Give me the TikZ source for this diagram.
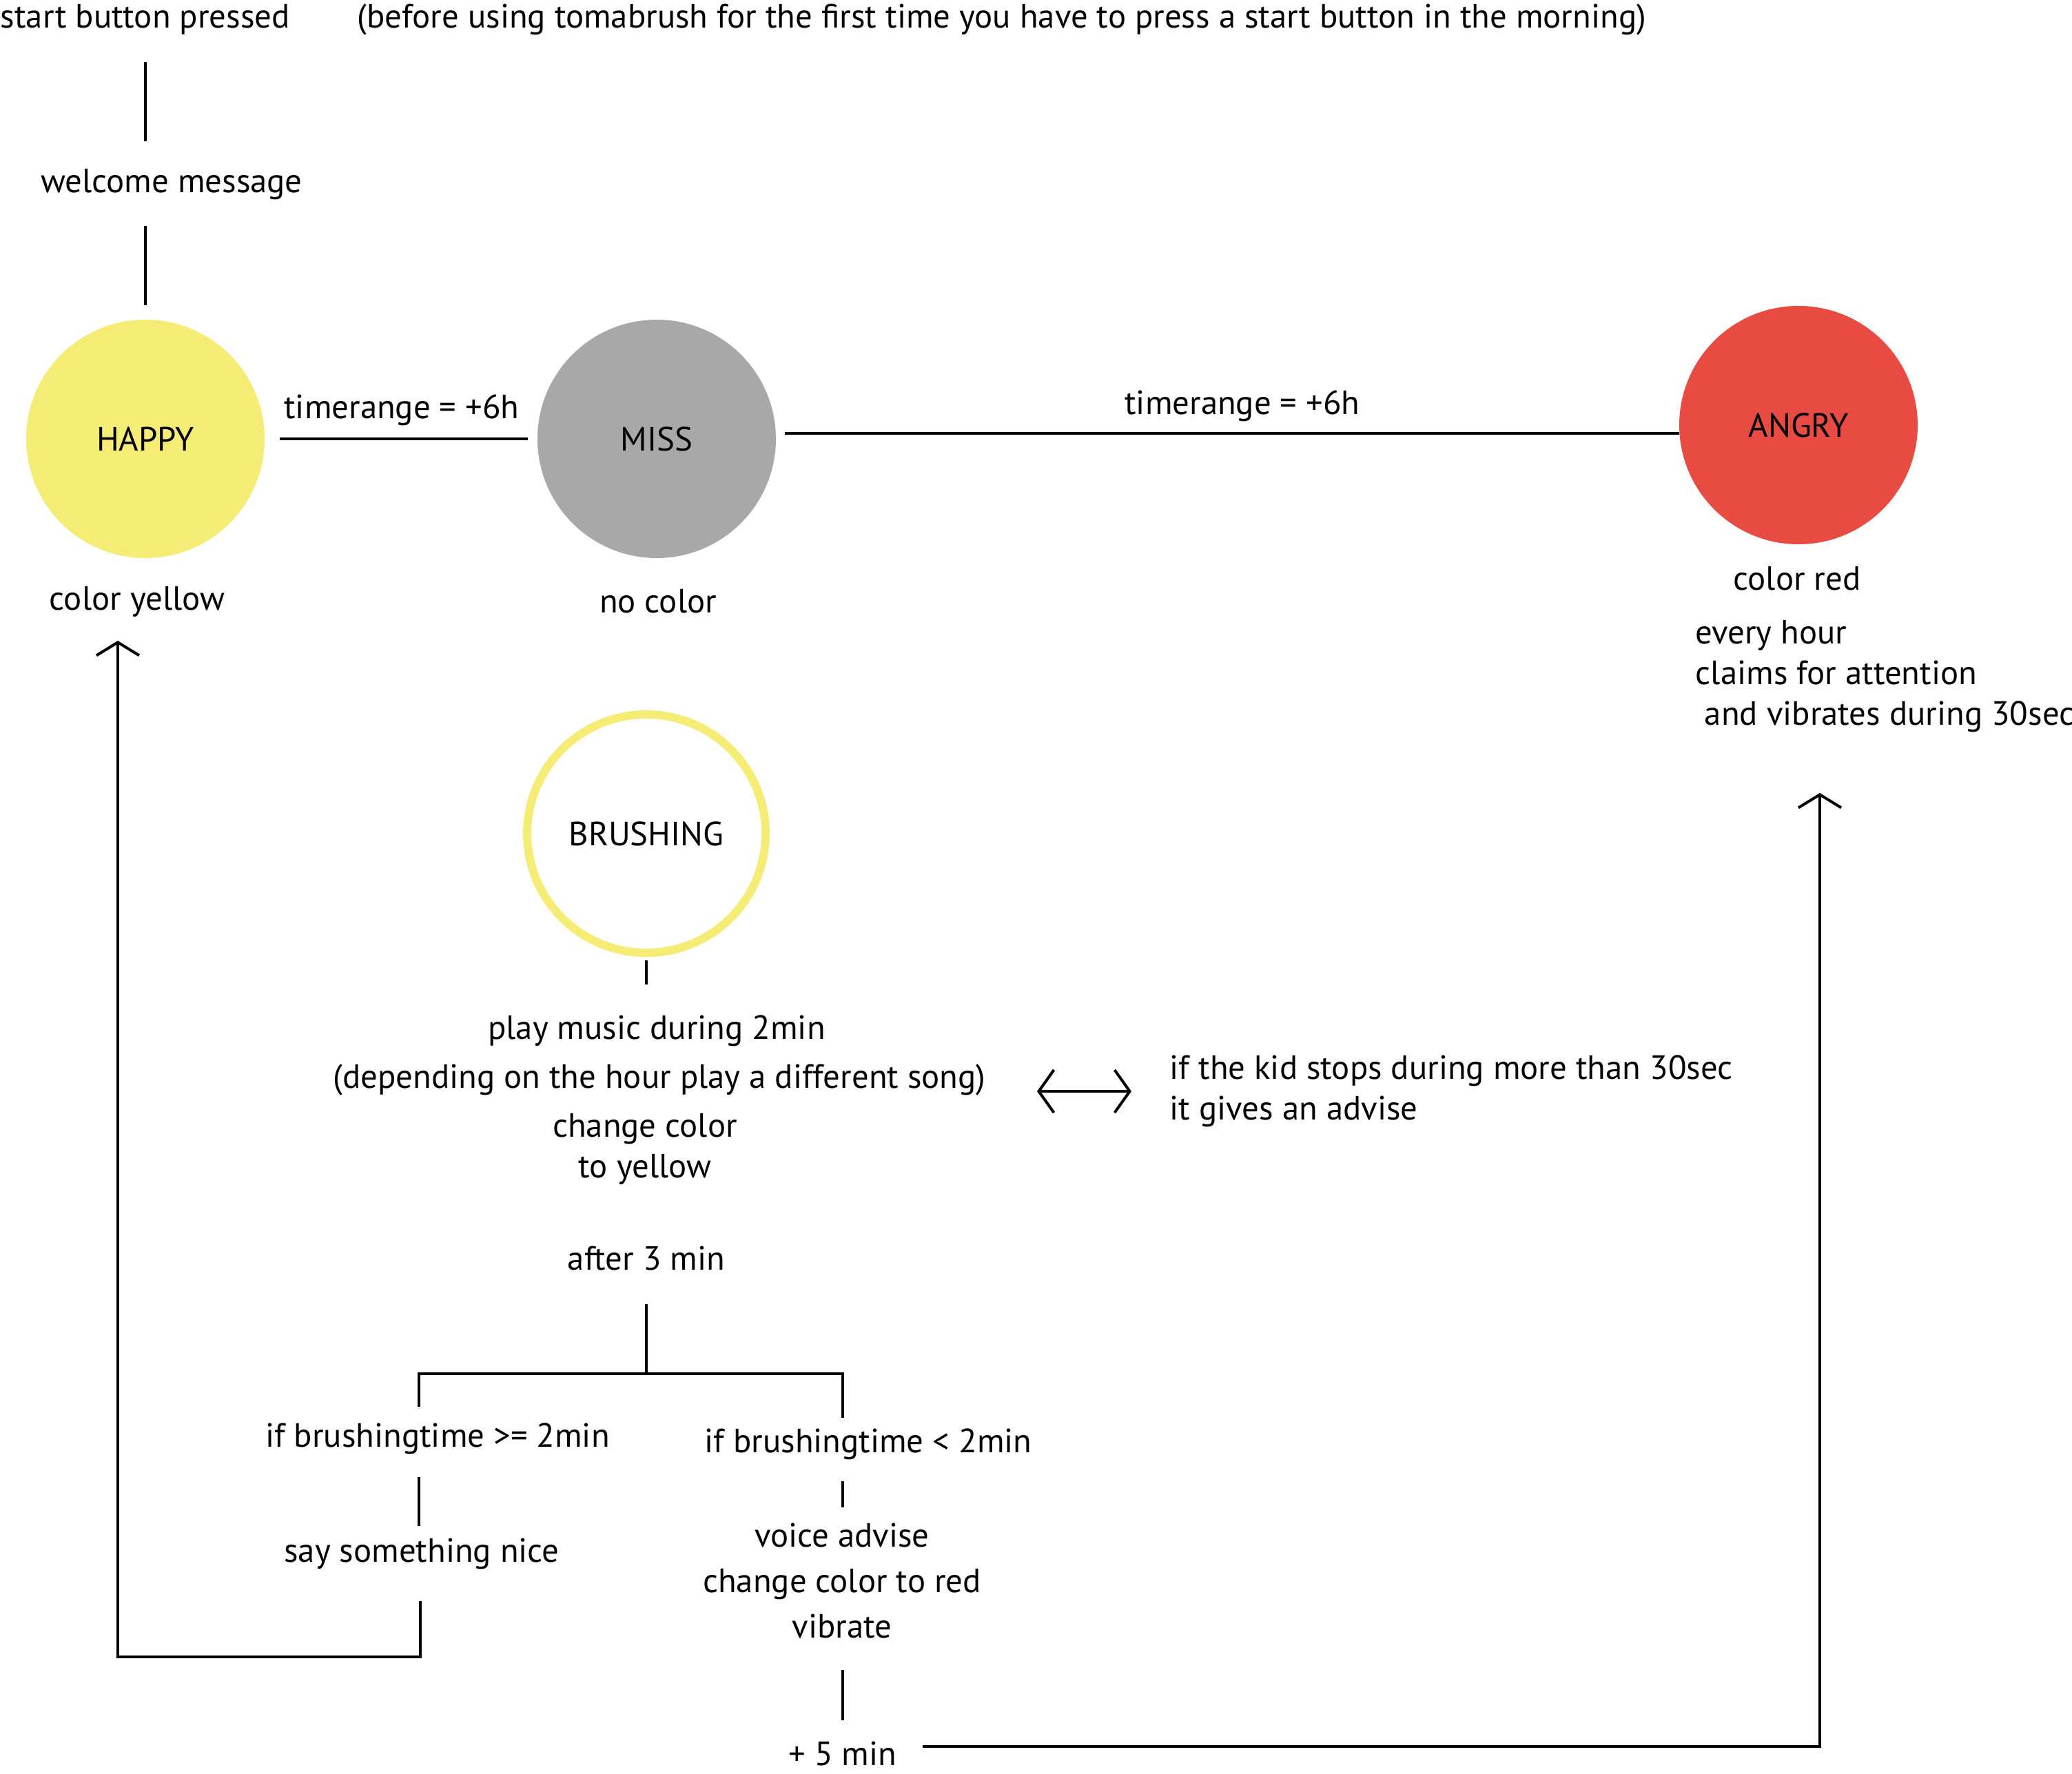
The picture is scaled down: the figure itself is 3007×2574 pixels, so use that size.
\documentclass[tikz,border=0pt]{standalone}
\usepackage{fontspec}
\setmainfont{PT Sans}
\usetikzlibrary{arrows.meta}
\definecolor{happyY}{HTML}{F5EC75}
\definecolor{missG}{HTML}{A7A8A7}
\definecolor{angryR}{HTML}{E84B41}
\begin{document}
\begin{tikzpicture}[x=0.25pt,y=-0.25pt,
  txt/.style={font=\fontsize{12.2}{14.75}\selectfont, inner sep=0pt},
  state/.style={circle, minimum size=86.5pt, inner sep=0pt, font=\fontsize{12.2}{14}\selectfont},
  ln/.style={line width=1pt},
  barb/.style={-{Straight Barb[length=4.75pt,width=15.5pt,line width=1pt]}},
  dbarb/.style={{Straight Barb[length=5.5pt,width=15.5pt,line width=1pt]}-{Straight Barb[length=5.5pt,width=15.5pt,line width=1pt]}}]
\useasboundingbox (0,0) rectangle (3007,2574);
% texts
\node[txt,anchor=west] (start) at (0,28) {start button pressed};
\node[txt,anchor=west] (note) at (518,28) {(before using tomabrush for the first time you have to press a start button in the morning)};
\node[txt] (welcome) at (249,268) {welcome message};
\node[state,fill=happyY] (happy) at (211,637) {HAPPY};
\node[txt] (cy) at (199,873) {color yellow};
\node[state,fill=missG] (miss) at (953,637) {MISS};
\node[txt] (nc) at (955,873) {no color};
\node[state,fill=angryR] (angry) at (2610,617) {ANGRY};
\node[txt] (cr) at (2608,840) {color red};
\node[txt,anchor=west,align=left] (every) at (2460,982) {every hour\\claims for attention\\\ and vibrates during 30sec};
\node[txt] (t1) at (583,595) {timerange = +6h};
\node[txt] (t2) at (1803,589) {timerange = +6h};
\node[state,draw=happyY,line width=3pt] (brush) at (938,1210) {BRUSHING};
\node[txt] (play) at (953,1496) {play music during 2min};
\node[txt] (dep) at (957,1567) {(depending on the hour play a different song)};
\node[txt,align=center] (chg) at (936,1668) {change color\\to yellow};
\node[txt] (after) at (938,1826) {after 3 min};
\node[txt,anchor=west,align=left] (kid) at (1697,1584) {if the kid stops during more than 30sec\\it gives an advise};
\node[txt] (ge) at (635,2088) {if brushingtime >= 2min};
\node[txt] (lt) at (1260,2096) {if brushingtime < 2min};
\node[txt] (nice) at (612,2255) {say something nice};
\node[txt,align=center,font=\fontsize{12.2}{16.5}\selectfont] (voice) at (1222,2294) {voice advise\\change color to red\\vibrate};
\node[txt] (five) at (1223,2545) {+ 5 min};
% coordinates
\coordinate (a1) at (211,90);   \coordinate (a2) at (211,205);
\coordinate (b1) at (211,328);  \coordinate (b2) at (211,443);
\coordinate (m1) at (1139,629); \coordinate (m2) at (2437,629);
\coordinate (br1) at (938,1394); \coordinate (br2) at (938,1429);
\coordinate (d1) at (1505,1584); \coordinate (d2) at (1642,1584);
\coordinate (s1) at (938,1893); \coordinate (s2) at (938,1994);
\coordinate (sl) at (608,1994); \coordinate (sr) at (1223,1994);
\coordinate (sl2) at (608,2042); \coordinate (sr2) at (1223,2058);
\coordinate (g1) at (608,2144); \coordinate (g2) at (608,2215);
\coordinate (r1) at (1223,2150); \coordinate (r2) at (1223,2188);
\coordinate (n1) at (610,2324); \coordinate (n2) at (610,2405);
\coordinate (n3) at (171,2405); \coordinate (n4) at (171,930);
\coordinate (v1) at (1223,2424); \coordinate (v2) at (1223,2497);
\coordinate (f1) at (1339,2535); \coordinate (f2) at (2641,2535);
\coordinate (f3) at (2641,1151);
% connectors
\draw[ln] (a1) -- (a2);
\draw[ln] (b1) -- (b2);
\draw[ln,shorten <=21*0.25pt,shorten >=13*0.25pt] (happy) -- (miss);
\draw[ln] (m1) -- (m2);
\draw[ln] (br1) -- (br2);
\draw[ln,dbarb] (d1) -- (d2);
\draw[ln] (s1) -- (s2);
\draw[ln] (sl2) -- (sl) -- (sr) -- (sr2);
\draw[ln] (g1) -- (g2);
\draw[ln] (r1) -- (r2);
\draw[ln,barb] (n1) -- (n2) -- (n3) -- (n4);
\draw[ln] (v1) -- (v2);
\draw[ln,barb] (f1) -- (f2) -- (f3);
\end{tikzpicture}
\end{document}
